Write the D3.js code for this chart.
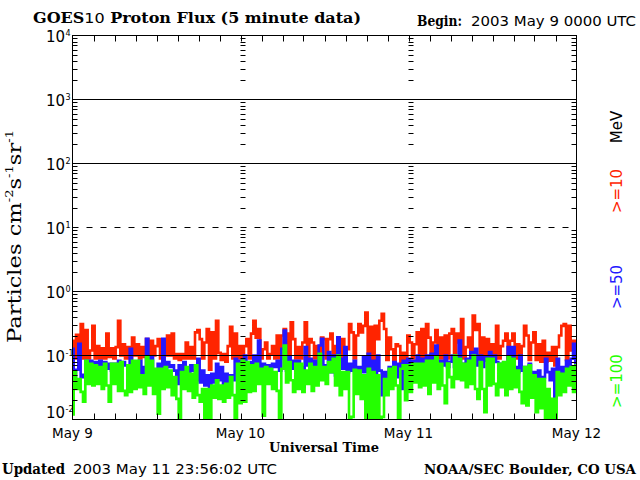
<!DOCTYPE html>
<html>
<head>
<meta charset="utf-8">
<script src="https://cdn.jsdelivr.net/npm/d3@7"></script>
<style>
  body { margin: 0; background: #fff; }
  svg { display: block; }
  .bold { font-family: "DejaVu Serif", serif; font-weight: bold; }
  .sans { font-family: "DejaVu Sans", sans-serif; }
</style>
</head>
<body>
<div id="chart"></div>
<script>
const settings = {
  width: 640,
  height: 480,
  left: 72.5,
  right: 576.5,
  top: 35.5,
  bottom: 419.5,
  tick: 5,
  lineWidth: 2.6,
}

// proton flux, one sample every 20 min from May 9 00:00 UTC
const startTime = "2003-05-09T00:00:00Z";
const sampleMinutes = 20;

const flux10 = [
  0.17, 0.09, 0.21, 0.10, 0.31, 0.09, 0.25, 0.09, 0.12, 0.29, 0.09, 0.14,
  0.09, 0.13, 0.09, 0.22, 0.095, 0.13, 0.09, 0.135, 0.35, 0.10, 0.15, 0.09,
  0.135, 0.09, 0.19, 0.10, 0.15, 0.09, 0.135, 0.095, 0.18, 0.09, 0.17, 0.10,
  0.14, 0.18, 0.09, 0.17, 0.10, 0.205, 0.10, 0.22, 0.09, 0.105, 0.085, 0.105,
  0.09, 0.16, 0.09, 0.135, 0.09, 0.23, 0.25, 0.18, 0.09, 0.16, 0.26, 0.06,
  0.23, 0.09, 0.35, 0.11, 0.085, 0.105, 0.08, 0.14, 0.28, 0.09, 0.22, 0.09,
  0.14, 0.085, 0.14, 0.18, 0.09, 0.22, 0.35, 0.19, 0.26, 0.09, 0.125, 0.16,
  0.09, 0.105, 0.14, 0.09, 0.205, 0.09, 0.205, 0.26, 0.22, 0.09, 0.33, 0.18,
  0.09, 0.135, 0.09, 0.16, 0.33, 0.09, 0.18, 0.16, 0.09, 0.14, 0.09, 0.19,
  0.18, 0.09, 0.18, 0.22, 0.09, 0.14, 0.19, 0.085, 0.18, 0.085, 0.125, 0.31,
  0.23, 0.09, 0.205, 0.31, 0.23, 0.29, 0.47, 0.09, 0.28, 0.085, 0.29, 0.18,
  0.35, 0.45, 0.26, 0.085, 0.19, 0.125, 0.08, 0.15, 0.14, 0.08, 0.11, 0.075,
  0.205, 0.16, 0.09, 0.15, 0.23, 0.09, 0.26, 0.09, 0.31, 0.19, 0.09, 0.16,
  0.25, 0.09, 0.19, 0.09, 0.205, 0.09, 0.22, 0.26, 0.09, 0.22, 0.16, 0.37,
  0.09, 0.135, 0.19, 0.09, 0.42, 0.25, 0.31, 0.09, 0.19, 0.09, 0.18, 0.09,
  0.15, 0.09, 0.29, 0.09, 0.14, 0.17, 0.22, 0.09, 0.17, 0.22, 0.09, 0.15,
  0.085, 0.14, 0.29, 0.205, 0.085, 0.16, 0.23, 0.085, 0.15, 0.08, 0.17, 0.08,
  0.11, 0.083, 0.135, 0.07, 0.135, 0.205, 0.29, 0.31, 0.085, 0.29, 0.12, 0.17,
  0.09
];

const flux50 = [
  0.127, 0.038, 0.06, 0.152, 0.046, 0.05, 0.083, 0.07, 0.083, 0.066, 0.079, 0.066,
  0.083, 0.049, 0.079, 0.062, 0.074, 0.058, 0.074, 0.062, 0.083, 0.066, 0.079, 0.07,
  0.038, 0.127, 0.055, 0.079, 0.055, 0.083, 0.046, 0.066, 0.182, 0.066, 0.094, 0.043,
  0.058, 0.074, 0.058, 0.182, 0.058, 0.079, 0.066, 0.07, 0.058, 0.036, 0.07, 0.058,
  0.079, 0.041, 0.055, 0.07, 0.058, 0.041, 0.089, 0.038, 0.058, 0.034, 0.049, 0.025,
  0.052, 0.038, 0.074, 0.041, 0.066, 0.032, 0.052, 0.036, 0.049, 0.041, 0.089, 0.055,
  0.083, 0.058, 0.10, 0.049, 0.079, 0.066, 0.10, 0.062, 0.171, 0.055, 0.074, 0.062,
  0.07, 0.058, 0.074, 0.066, 0.083, 0.058, 0.127, 0.246, 0.058, 0.094, 0.062, 0.083,
  0.058, 0.083, 0.066, 0.032, 0.135, 0.07, 0.089, 0.058, 0.083, 0.07, 0.143, 0.182,
  0.07, 0.066, 0.113, 0.055, 0.10, 0.049, 0.193, 0.089, 0.062, 0.135, 0.055, 0.074,
  0.058, 0.083, 0.052, 0.066, 0.055, 0.094, 0.055, 0.106, 0.046, 0.083, 0.034, 0.10,
  0.058, 0.024, 0.055, 0.043, 0.066, 0.041, 0.079, 0.046, 0.074, 0.03, 0.083, 0.052,
  0.089, 0.058, 0.083, 0.074, 0.10, 0.066, 0.089, 0.07, 0.10, 0.066, 0.106, 0.074,
  0.143, 0.074, 0.083, 0.07, 0.10, 0.066, 0.08, 0.10, 0.066, 0.089, 0.171, 0.074,
  0.043, 0.089, 0.074, 0.113, 0.07, 0.127, 0.07, 0.10, 0.066, 0.094, 0.083, 0.113,
  0.066, 0.10, 0.079, 0.066, 0.074, 0.052, 0.07, 0.135, 0.074, 0.135, 0.066, 0.055,
  0.10, 0.058, 0.066, 0.052, 0.074, 0.034, 0.055, 0.038, 0.058, 0.032, 0.046, 0.089,
  0.055, 0.041, 0.062, 0.022, 0.089, 0.046, 0.066, 0.041, 0.083, 0.038, 0.089, 0.152,
  0.066
];

const flux100 = [
  0.012, 0.055, 0.03, 0.043, 0.027, 0.019, 0.083, 0.036, 0.074, 0.034, 0.07, 0.036,
  0.066, 0.03, 0.074, 0.034, 0.019, 0.074, 0.036, 0.074, 0.028, 0.079, 0.028, 0.024,
  0.07, 0.027, 0.083, 0.03, 0.083, 0.032, 0.049, 0.025, 0.094, 0.034, 0.083, 0.025,
  0.062, 0.0123, 0.062, 0.03, 0.066, 0.032, 0.058, 0.024, 0.046, 0.021, 0.01, 0.055,
  0.03, 0.066, 0.028, 0.052, 0.022, 0.07, 0.024, 0.019, 0.03, 0.01, 0.03, 0.01,
  0.034, 0.022, 0.041, 0.021, 0.034, 0.019, 0.036, 0.022, 0.046, 0.024, 0.01, 0.074,
  0.018, 0.083, 0.019, 0.079, 0.027, 0.07, 0.028, 0.074, 0.036, 0.062, 0.0115, 0.066,
  0.036, 0.062, 0.03, 0.055, 0.028, 0.01, 0.062, 0.143, 0.038, 0.079, 0.041, 0.027,
  0.074, 0.03, 0.074, 0.027, 0.058, 0.036, 0.074, 0.028, 0.066, 0.034, 0.106, 0.041,
  0.066, 0.036, 0.079, 0.055, 0.089, 0.034, 0.10, 0.024, 0.055, 0.03, 0.055, 0.01,
  0.011, 0.06, 0.025, 0.058, 0.021, 0.049, 0.01, 0.062, 0.01, 0.055, 0.01, 0.049,
  0.01, 0.011, 0.043, 0.024, 0.062, 0.03, 0.066, 0.034, 0.01, 0.062, 0.07, 0.02,
  0.07, 0.027, 0.074, 0.038, 0.074, 0.032, 0.074, 0.034, 0.083, 0.025, 0.083, 0.038,
  0.094, 0.03, 0.074, 0.034, 0.018, 0.075, 0.046, 0.032, 0.10, 0.043, 0.089, 0.041,
  0.074, 0.032, 0.083, 0.036, 0.10, 0.03, 0.021, 0.079, 0.03, 0.013, 0.089, 0.034,
  0.089, 0.036, 0.024, 0.074, 0.032, 0.079, 0.024, 0.094, 0.03, 0.089, 0.032, 0.058,
  0.027, 0.018, 0.066, 0.0166, 0.07, 0.022, 0.049, 0.013, 0.043, 0.015, 0.043, 0.01,
  0.03, 0.01, 0.021, 0.01, 0.055, 0.024, 0.052, 0.027, 0.062, 0.034, 0.066, 0.027,
  0.07
];

const channels = [">=10", ">=50", ">=100"];
const channelColors = ["#ff2400", "#2418ff", "#24ff00"];
const channelLabelY = [191, 287, 381];
const decades = [1e-2, 1e-1, 1e0, 1e1, 1e2, 1e3, 1e4];
const decadeExponents = ["-2", "-1", "0", "1", "2", "3", "4"];
const thresholdFlux = 10; // drawn dashed

let svg;

/****** FUNCTIONS ********/

const initSvgCanvas = function(w, h) {
  svg = d3.select("#chart").append("svg")
    .attr("width", w)
    .attr("height", h);
  svg.append("rect").attr("width", w).attr("height", h).attr("fill", "#fff");
  return svg;
}

const t0 = new Date(startTime);
const timeOf = i => new Date(t0.getTime() + i * sampleMinutes * 60000);

const x = d3.scaleUtc()
  .domain([t0, d3.utcDay.offset(t0, 3)])
  .range([settings.left, settings.right]);

const y = d3.scaleLog()
  .domain([decades[0], decades[decades.length - 1]])
  .range([settings.bottom, settings.top]);

const renderSeries = function() {
  svg.append("clipPath").attr("id", "clip")
    .append("rect")
    .attr("x", settings.left).attr("y", settings.top)
    .attr("width", settings.right - settings.left)
    .attr("height", settings.bottom - settings.top);

  const line = d3.line()
    .x((d, i) => x(timeOf(i)))
    .y(d => y(Math.max(d, decades[0])))
    .curve(d3.curveStep);

  // >=10 first, >=100 on top, like the original
  [flux10, flux50, flux100].forEach(function(s, k) {
    svg.append("path")
      .attr("d", line(s))
      .attr("clip-path", "url(#clip)")
      .attr("fill", "none")
      .attr("stroke", channelColors[k])
      .attr("stroke-width", settings.lineWidth)
      .attr("stroke-linejoin", "miter");
  });
}

const renderGrid = function() {
  const inner = decades.slice(1, -1);
  svg.selectAll(".grid").data(inner).enter().append("line")
    .attr("x1", settings.left).attr("x2", settings.right)
    .attr("y1", d => y(d)).attr("y2", d => y(d))
    .attr("stroke", "#000")
    .attr("stroke-dasharray", d => d === thresholdFlux ? "6,8" : null);

  // log minor ticks on the sides and at each day boundary
  const minor = y.ticks().filter(v => !decades.some(d => Math.abs(v / d - 1) < 1e-9));
  const days = x.ticks(d3.utcDay.every(1));
  const posts = days.slice(0, -1).map(d => ({x: x(d), dir: 1}))
    .concat([{x: settings.right, dir: -1}]);
  posts.forEach(function(p) {
    svg.append("g").selectAll("line").data(minor).enter().append("line")
      .attr("x1", p.x).attr("x2", p.x + p.dir * settings.tick)
      .attr("y1", d => Math.round(y(d)) + 0.5).attr("y2", d => Math.round(y(d)) + 0.5)
      .attr("stroke", "#000");
  });

  // 3 hour ticks top and bottom
  const hours = x.ticks(d3.utcHour.every(3)).slice(1, -1);
  svg.append("g").selectAll("line").data(hours).enter().append("line")
    .attr("x1", d => Math.round(x(d)) + 0.5).attr("x2", d => Math.round(x(d)) + 0.5)
    .attr("y1", settings.bottom).attr("y2", settings.bottom - settings.tick - 1)
    .attr("stroke", "#000");
  svg.append("g").selectAll("line").data(hours).enter().append("line")
    .attr("x1", d => Math.round(x(d)) + 0.5).attr("x2", d => Math.round(x(d)) + 0.5)
    .attr("y1", settings.top).attr("y2", settings.top + settings.tick + 1)
    .attr("stroke", "#000");

  svg.append("rect")
    .attr("x", settings.left).attr("y", settings.top)
    .attr("width", settings.right - settings.left)
    .attr("height", settings.bottom - settings.top)
    .attr("fill", "none").attr("stroke", "#000");

  // day labels
  svg.append("g").selectAll("text").data(days).enter().append("text")
    .attr("class", "sans")
    .attr("x", d => x(d)).attr("y", 438)
    .attr("text-anchor", "middle")
    .attr("font-size", 13.5)
    .text(d3.utcFormat("%b %-d"));

  // decade labels 10^n, the lowest one sits a bit higher
  decades.forEach(function(d, i) {
    const yy = i === 0 ? y(d) - 8 : y(d);
    svg.append("text").attr("class", "sans")
      .attr("x", 65).attr("y", yy + 6)
      .attr("text-anchor", "end").attr("font-size", 15)
      .text("10");
    svg.append("text").attr("class", "sans")
      .attr("x", 65.5).attr("y", yy)
      .attr("font-size", 8)
      .text(decadeExponents[i]);
  });
}

const renderLabels = function() {
  const title = svg.append("text").attr("class", "bold")
    .attr("x", 33).attr("y", 22.5).attr("font-size", 14)
    .attr("textLength", 328).attr("lengthAdjust", "spacingAndGlyphs");
  title.append("tspan").text("GOES");
  title.append("tspan").attr("class", "sans").attr("font-weight", "normal").text("10");
  title.append("tspan").text(" Proton Flux (5 minute data)");

  svg.append("text").attr("class", "bold")
    .attr("x", 417).attr("y", 26).attr("font-size", 14)
    .attr("textLength", 45).attr("lengthAdjust", "spacingAndGlyphs")
    .text("Begin:");
  svg.append("text").attr("class", "sans")
    .attr("x", 636).attr("y", 26).attr("font-size", 14)
    .attr("text-anchor", "end")
    .attr("textLength", 165).attr("lengthAdjust", "spacingAndGlyphs")
    .text("2003 May 9 0000 UTC");

  svg.append("text").attr("class", "bold")
    .attr("x", 324).attr("y", 452).attr("font-size", 13)
    .attr("text-anchor", "middle")
    .attr("textLength", 110).attr("lengthAdjust", "spacingAndGlyphs")
    .text("Universal Time");

  svg.append("text").attr("class", "bold")
    .attr("x", 2).attr("y", 474).attr("font-size", 14)
    .attr("textLength", 63).attr("lengthAdjust", "spacingAndGlyphs")
    .text("Updated");
  svg.append("text").attr("class", "sans")
    .attr("x", 73).attr("y", 474).attr("font-size", 14)
    .attr("textLength", 204).attr("lengthAdjust", "spacingAndGlyphs")
    .text("2003 May 11 23:56:02 UTC");

  svg.append("text").attr("class", "bold")
    .attr("x", 636).attr("y", 474).attr("font-size", 13)
    .attr("text-anchor", "end")
    .attr("textLength", 212).attr("lengthAdjust", "spacingAndGlyphs")
    .text("NOAA/SEC Boulder, CO USA");

  // y axis title with superscripts
  const yt = svg.append("text")
    .attr("transform", "translate(21,236.5) rotate(-90)")
    .attr("text-anchor", "middle")
    .attr("font-family", "DejaVu Serif, serif")
    .attr("font-size", 19)
    .attr("textLength", 213).attr("lengthAdjust", "spacingAndGlyphs");
  yt.append("tspan").text("Particles cm");
  yt.append("tspan").attr("dy", -8).attr("font-size", 11).text("-2");
  yt.append("tspan").attr("dy", 8).text("s");
  yt.append("tspan").attr("dy", -8).attr("font-size", 11).text("-1");
  yt.append("tspan").attr("dy", 8).text("sr");
  yt.append("tspan").attr("dy", -8).attr("font-size", 11).text("-1");

  // energy channels down the right side
  svg.append("text").attr("class", "sans")
    .attr("transform", "translate(622,127) rotate(-90)")
    .attr("text-anchor", "middle").attr("font-size", 15)
    .text("MeV");
  channels.forEach(function(c, k) {
    svg.append("text").attr("class", "sans")
      .attr("transform", `translate(622,${channelLabelY[k]}) rotate(-90)`)
      .attr("text-anchor", "middle").attr("font-size", 15)
      .attr("fill", channelColors[k])
      .text(c);
  });
}

initSvgCanvas(settings.width, settings.height);
renderSeries();
renderGrid();
renderLabels();
</script>
</body>
</html>
